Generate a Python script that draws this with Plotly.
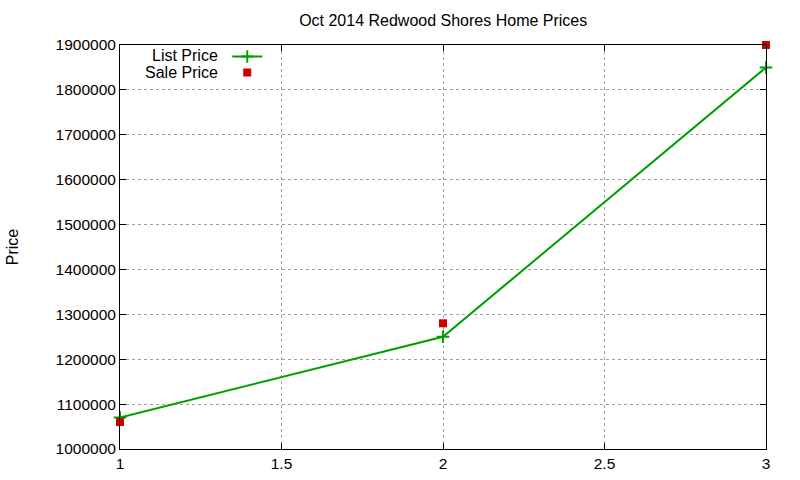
import plotly.graph_objects as go

listing_no = [1, 2, 3]
list_price = [1070000, 1250000, 1850000]
sale_price = [1060000, 1280000, 1900000]
x_ticks = [1, 1.5, 2, 2.5, 3]
y_ticks = [1000000, 1100000, 1200000, 1300000, 1400000,
           1500000, 1600000, 1700000, 1800000, 1900000]

green = '#00a000'
red = '#cc0000'
font = 'Liberation Sans, Arial, sans-serif'

fig = go.Figure()
fig.add_trace(go.Scatter(
    x=listing_no, y=list_price, name=' ', mode='lines+markers', legend='legend',
    line=dict(color=green, width=2),
    marker=dict(symbol='cross-thin', size=9, line=dict(color=green, width=2), color=green),
    cliponaxis=False,
))
fig.add_trace(go.Scatter(
    x=listing_no, y=sale_price, name=' ', mode='markers', legend='legend2',
    marker=dict(symbol='square', size=8, color=red),
    cliponaxis=False,
))

# gnuplot style legend: text sits left of the sample
fig.add_annotation(text='List Price', xref='paper', yref='paper', x=0.155, y=0.973,
                   xanchor='right', yanchor='middle', showarrow=False,
                   font=dict(family=font, size=16, color='black'))
fig.add_annotation(text='Sale Price', xref='paper', yref='paper', x=0.155, y=0.933,
                   xanchor='right', yanchor='middle', showarrow=False,
                   font=dict(family=font, size=16, color='black'))

axis_common = dict(
    showline=True, linecolor='black', linewidth=1, mirror='ticks',
    ticks='inside', ticklen=6, tickcolor='black',
    showgrid=True, gridcolor='#a0a0a0', griddash='dot', gridwidth=1,
    zeroline=False, tickfont=dict(family=font, size=15.5, color='black'),
    automargin=False,
)

legend_common = dict(xanchor='left', yanchor='top', bgcolor='rgba(0,0,0,0)',
                     font=dict(family=font, size=6), itemwidth=30)

fig.update_layout(
    width=800, height=480,
    plot_bgcolor='white', paper_bgcolor='white',
    margin=dict(l=120, r=34, t=45, b=31),
    title=dict(text='Oct 2014 Redwood Shores Home Prices', x=0.554, xanchor='center',
               y=0.958, yanchor='middle', font=dict(family=font, size=16, color='black')),
    showlegend=True,
    legend=dict(x=0.166, y=1.0074, **legend_common),
    legend2=dict(x=0.166, y=0.9678, **legend_common),
)
fig.update_xaxes(range=[1, 3], tickvals=x_ticks, ticktext=['1', '1.5', '2', '2.5', '3'],
                 **axis_common)
fig.update_yaxes(range=[1000000, 1900000], tickvals=y_ticks, tickformat='d',
                 title=dict(text='Price', font=dict(family=font, size=16, color='black'), standoff=32),
                 **axis_common)

fig.write_html('out.html', config={'displayModeBar': False},
               post_script="document.body.style.margin='0';")
